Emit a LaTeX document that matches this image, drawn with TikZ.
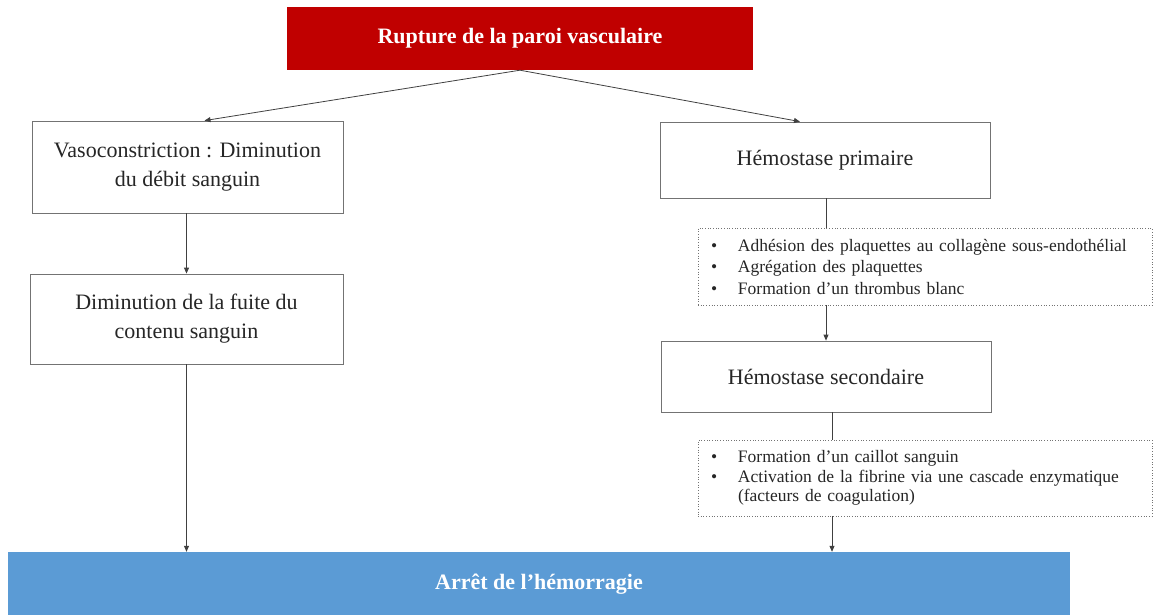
\documentclass[tikz,border=0pt]{standalone}
\usepackage{fontspec}
\setmainfont{LiberationSerif}[Extension=.ttf, UprightFont=*-Regular, BoldFont=*-Bold, ItalicFont=*-Italic, BoldItalicFont=*-BoldItalic]
\usetikzlibrary{arrows.meta,calc}
\definecolor{redbox}{HTML}{C00000}
\definecolor{bluebox}{HTML}{5B9BD5}
\definecolor{txt}{HTML}{262626}
\newcommand\bul{\makebox[27pt][l]{\textbullet}}
\begin{document}
\begin{tikzpicture}[x=1pt,y=-1pt,
  plain/.style={draw=black!55, line width=0.8pt, fill=white, text=txt, align=center,
    font=\fontsize{22}{29}\selectfont, inner sep=0pt},
  listbox/.style={draw=black!55, dotted, line width=0.7pt, text=txt, align=left,
    inner xsep=13pt, inner ysep=0pt, text width=428pt, minimum height=#1},
  banner/.style={fill=#1, draw=none, text=white, font=\bfseries\fontsize{22}{26}\selectfont, inner sep=0pt},
  conn/.style={draw=black!75, line width=0.8pt},
  arr/.style={conn, -{Triangle[length=6pt,width=5pt]}}]
\useasboundingbox (0,0) rectangle (1154,614);
\begin{scope}
\clip (0,0) rectangle (1154,614);
\node[banner=redbox, minimum width=466pt, minimum height=63pt] (top) at (520,38.5) {Rupture de la paroi vasculaire};
\node[plain, minimum width=311pt, minimum height=92pt] (l1) at (187.5,167) {Vasoconstriction : Diminution\\du débit sanguin};
\node[plain, minimum width=313pt, minimum height=90pt] (l2) at (186.5,319) {Diminution de la fuite du\\contenu sanguin};
\node[plain, minimum width=330pt, minimum height=76pt] (r1) at (825,160) {Hémostase primaire};
\node[listbox=77pt, font=\fontsize{17.5}{21.5}\selectfont] (d1) at (925,266.5)
  {\bul Adhésion des plaquettes au collagène sous-endothélial\\
   \bul Agrégation des plaquettes\\
   \bul Formation d’un thrombus blanc};
\node[plain, minimum width=330pt, minimum height=71pt] (r2) at (826,376.5) {Hémostase secondaire};
\node[listbox=76pt, font=\fontsize{17.5}{19.5}\selectfont] (d2) at (925,478)
  {\bul Formation d’un caillot sanguin\\
   \bul Activation de la fibrine via une cascade enzymatique\\
   \hspace*{27pt}(facteurs de coagulation)};
\node[banner=bluebox, minimum width=1062pt, minimum height=64pt] (bot) at (539,584) {Arrêt de l’hémorragie};
\end{scope}
\draw[arr] (top.south) -- ([xshift=17pt]l1.north);
\draw[arr] (top.south) -- ([xshift=-25pt]r1.north);
\draw[arr] (l2.north |- l1.south) -- (l2.north);
\draw[arr] (l2.south) -- (l2.south |- bot.north);
\draw[conn] ([xshift=1pt]r1.south) -- ([xshift=1pt]r1.south |- d1.north);
\draw[arr] (r2.north |- d1.south) -- (r2.north);
\draw[conn] ([xshift=6pt]r2.south) -- ([xshift=6pt]r2.south |- d2.north);
\draw[arr] ([xshift=6pt]r2.south |- d2.south) -- ([xshift=6pt]r2.south |- bot.north);
\end{tikzpicture}
\end{document}
